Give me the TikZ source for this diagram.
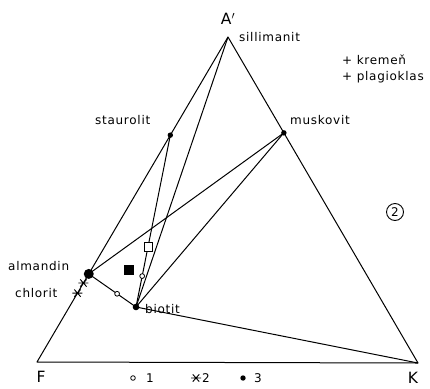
\documentclass[tikz,border=0pt]{standalone}
\usepackage{fontspec}
\setmainfont{DejaVu Sans}[LetterSpace=6]
\usetikzlibrary{calc}
\begin{document}
\begin{tikzpicture}[x=1pt,y=-1pt,
  ln/.style={line width=1pt, line join=round},
  lbl/.style={anchor=west, inner sep=0pt, font=\fontsize{12}{14}\selectfont},
  corner/.style={inner sep=0pt, font=\fontsize{15.5}{18}\selectfont},
  dotmark/.style={fill=black},
  opencirc/.style={draw, fill=white, line width=0.8pt},
  astmark/.pic={\draw[line width=0.9pt] (-5,0)--(5,0) (-3.2,-3.6)--(3.2,3.6) (-3.2,3.6)--(3.2,-3.6);}
]
\useasboundingbox (0,0) rectangle (430,388);
% corners
\coordinate (F) at (37,362);
\coordinate (K) at (418,363);
\coordinate (A) at (228,37);
% mineral points
\coordinate (st) at ($(F)!0.698!(A)$);
\coordinate (al) at ($(F)!0.271!(A)$);
\coordinate (mu) at ($(A)!0.294!(K)$);
\coordinate (bi) at (136,307);
\coordinate (sq) at ($(st)!0.651!(bi)$);
\coordinate (c1) at ($(st)!0.82!(bi)$);
\coordinate (c2) at ($(al)!0.6!(bi)$);
\coordinate (as1) at ($(F)!0.243!(A)$);
\coordinate (as2) at ($(F)!0.212!(A)$);
\coordinate (fsq) at (129,270);
% triangle
\draw[ln] (F) -- (K) -- (A) -- cycle;
% tie lines
\draw[ln] (st) -- (bi);
\draw[ln] (A) -- (bi);
\draw[ln] (al) -- (mu);
\draw[ln] (bi) -- (mu);
\draw[ln] (al) -- (bi);
\draw[ln] (bi) -- (K);
% markers
\fill[dotmark] (st) circle (2.7);
\fill[dotmark] (mu) circle (2.7);
\fill[dotmark] (bi) circle (3.3);
\fill[dotmark] (al) circle (5);
\draw[opencirc] (c1) circle (2.4);
\draw[opencirc] (c2) circle (2.4);
\draw[line width=0.9pt, fill=white] ($(sq)+(-4,-4.5)$) rectangle ($(sq)+(4,4.5)$);
\fill ($(fsq)+(-4.8,-4.8)$) rectangle ($(fsq)+(4.8,4.8)$);
\pic at (as1) {astmark};
\pic at (as2) {astmark};
% labels
\node[corner] (lA) at (228,19) {A$'$};
\node[corner] (lF) at (41,377) {F};
\node[corner] (lK) at (413,378) {K};
\node[lbl] (lsil) at (239,37) {sillimanit};
\node[lbl] (lkr) at (342,60) {+ kremeň};
\node[lbl] (lpl) at (342,77) {+ plagioklas};
\node[lbl] (lst) at (95,120) {staurolit};
\node[lbl] (lmu) at (290,120) {muskovit};
\node[lbl] (lal) at (8,266) {almandin};
\node[lbl] (lch) at (15,293) {chlorit};
\node[lbl] (lbi) at (145,309) {biotit};
\node[draw, circle, line width=0.9pt, minimum size=17pt, inner sep=0pt, font=\fontsize{12}{14}\selectfont] (n2) at (395,212) {2};
% legend
\draw[opencirc] (133,378) circle (2.3);
\node[lbl] (l1) at (146,378) {1};
\pic at (196,378) {astmark};
\node[lbl] (l2) at (202,378) {2};
\fill[dotmark] (243,378) circle (2.7);
\node[lbl] (l3) at (254,378) {3};
\end{tikzpicture}
\end{document}
